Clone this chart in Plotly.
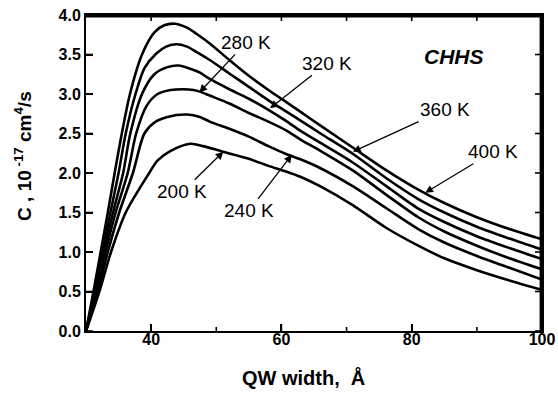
import plotly.graph_objects as go

# Temperatures (labels) and curve data: QW width (Å) vs C (10^-17 cm^4/s)
temps = ["400 K", "360 K", "320 K", "280 K", "240 K", "200 K"]

x_400 = [30, 31.15, 32.25, 33.35, 34.4, 35.5, 36.75, 38.6, 40.5, 42.0, 43.7, 45.5, 47.0, 49.0, 52.0, 55.0, 58.0, 60.7, 63.0, 66.0, 71.0, 76.0, 81.0, 85.0, 90.0, 95.0, 100.0]
y_400 = [0, 0.5, 1.0, 1.5, 2.0, 2.5, 3.0, 3.5, 3.78, 3.87, 3.89, 3.84, 3.76, 3.64, 3.43, 3.23, 3.05, 2.90, 2.77, 2.60, 2.32, 2.04, 1.79, 1.62, 1.44, 1.29, 1.16]

x_360 = [30, 31.3, 32.5, 33.75, 35.0, 36.1, 37.6, 39.0, 40.75, 42.3, 43.9, 45.5, 47.0, 49.0, 52.0, 55.0, 58.0, 60.7, 63.0, 66.0, 71.0, 76.0, 81.0, 85.0, 90.0, 95.0, 100.0]
y_360 = [0, 0.5, 1.0, 1.5, 2.0, 2.5, 3.0, 3.33, 3.51, 3.60, 3.63, 3.60, 3.53, 3.43, 3.26, 3.09, 2.92, 2.78, 2.66, 2.50, 2.24, 1.94, 1.67, 1.50, 1.32, 1.17, 1.03]

x_320 = [30, 31.45, 32.75, 34.15, 35.7, 36.8, 38.6, 40.5, 42.5, 44.2, 46.0, 47.5, 49.0, 52.0, 55.0, 58.0, 60.7, 63.0, 66.0, 71.0, 76.0, 81.0, 85.0, 90.0, 95.0, 100.0]
y_320 = [0, 0.5, 1.0, 1.5, 2.0, 2.5, 3.0, 3.25, 3.34, 3.36, 3.32, 3.27, 3.19, 3.06, 2.94, 2.80, 2.66, 2.53, 2.38, 2.13, 1.84, 1.55, 1.38, 1.20, 1.05, 0.91]

x_280 = [30, 31.6, 33.0, 34.55, 36.4, 37.7, 39.3, 41.0, 43.0, 44.95, 46.5, 47.5, 49.0, 52.0, 55.0, 58.0, 60.7, 63.0, 66.0, 71.0, 76.0, 81.0, 85.0, 90.0, 95.0, 100.0]
y_280 = [0, 0.5, 1.0, 1.5, 2.0, 2.5, 2.85, 3.0, 3.05, 3.06, 3.05, 3.03, 2.98, 2.88, 2.76, 2.65, 2.54, 2.42, 2.28, 2.03, 1.73, 1.44, 1.26, 1.08, 0.92, 0.78]

x_240 = [30, 31.8, 33.35, 35.1, 37.2, 38.96, 40.5, 42.5, 45.5, 47.5, 49.0, 52.0, 55.0, 58.0, 60.7, 63.0, 66.0, 71.0, 76.0, 81.0, 85.0, 90.0, 95.0, 100.0]
y_240 = [0, 0.5, 1.0, 1.5, 2.0, 2.5, 2.64, 2.71, 2.74, 2.71, 2.65, 2.56, 2.46, 2.34, 2.24, 2.17, 2.06, 1.83, 1.56, 1.29, 1.12, 0.95, 0.80, 0.65]

x_200 = [30, 32.05, 33.84, 36.1, 39.7, 41.0, 43.0, 46.0, 48.0, 51.0, 55.0, 58.0, 60.7, 63.0, 66.0, 71.0, 76.0, 81.0, 85.0, 90.0, 95.0, 100.0]
y_200 = [0, 0.5, 1.0, 1.5, 2.0, 2.16, 2.28, 2.37, 2.34, 2.27, 2.18, 2.09, 2.02, 1.95, 1.83, 1.59, 1.31, 1.08, 0.92, 0.77, 0.64, 0.52]

xs = [x_400, x_360, x_320, x_280, x_240, x_200]
ys = [y_400, y_360, y_320, y_280, y_240, y_200]

# Arrow tips (data coords) for labels
label_x = [82.07, 70.97, 58.26, 47.4, 61.6, 51.09]
label_y = [1.75, 2.27, 2.82, 3.02, 2.23, 2.27]

x_range = [30, 100]
y_range = [0, 4]
x_ticks = [40, 60, 80, 100]
x_minor = [50, 70, 90]
y_ticks = [0.0, 0.5, 1.0, 1.5, 2.0, 2.5, 3.0, 3.5, 4.0]

FONT = "Liberation Sans, Arial"
W, H = 558, 393
ML, MR, MT, MB = 86, 16, 15, 62

dxp = (x_range[1] - x_range[0]) / (W - ML - MR)   # data units per pixel (x)
dyp = (y_range[1] - y_range[0]) / (H - MT - MB)   # data units per pixel (y)

fig = go.Figure()

# Frame: top and right edges, drawn just inside the plot area
fx = [x_range[0], x_range[1] - 1.2 * dxp, x_range[1] - 1.2 * dxp]
fy = [y_range[1] - 1.2 * dyp, y_range[1] - 1.2 * dyp, y_range[0]]
fig.add_trace(go.Scatter(x=fx, y=fy, mode="lines", line=dict(color="black", width=2.4),
                         showlegend=False, hoverinfo="skip"))

# Inside tick marks on all four sides, from the tick lists
tx, ty = [], []
for xv in x_ticks + x_minor:
    ln = 7 if xv in x_ticks else 4
    tx += [xv, xv, None, xv, xv, None]
    ty += [y_range[0], y_range[0] + ln * dyp, None, y_range[1], y_range[1] - 6 * dyp, None]
for yv in y_ticks:
    tx += [x_range[0], x_range[0] + 7 * dxp, None, x_range[1], x_range[1] - 7 * dxp, None]
    ty += [yv, yv, None, yv, yv, None]
fig.add_trace(go.Scatter(x=tx, y=ty, mode="lines", line=dict(color="black", width=1.6),
                         showlegend=False, hoverinfo="skip", connectgaps=False))

for t, xv, yv in zip(temps, xs, ys):
    fig.add_trace(go.Scatter(x=xv, y=yv, mode="lines", name=t,
                             line=dict(color="black", width=2.6, shape="spline", smoothing=0.8),
                             showlegend=False, hoverinfo="skip"))

offsets = {"400 K": (68, -41), "360 K": (92, -42), "320 K": (57, -45),
           "280 K": (47, -50), "240 K": (-43, 56), "200 K": (-41, 40)}
for t, lx, ly in zip(temps, label_x, label_y):
    ax, ay = offsets[t]
    fig.add_annotation(x=lx, y=ly, text=t, showarrow=True, ax=ax, ay=ay,
                       arrowhead=2, arrowsize=1.2, arrowwidth=1.3, arrowcolor="black",
                       font=dict(family=FONT, size=19, color="black"))

fig.add_annotation(x=0.8076, y=0.8696, xref="paper", yref="paper", text="<b><i>CHHS</i></b>",
                   xanchor="center", yanchor="middle",
                   showarrow=False, font=dict(family=FONT, size=21, color="black"))

fig.add_annotation(x=-0.1397, y=0.555, xref="paper", yref="paper",
                   text="<b>C , 10<sup> -17</sup> cm<sup>4</sup>/s</b>", textangle=-90,
                   xanchor="center", yanchor="middle",
                   showarrow=False, font=dict(family=FONT, size=19, color="black"))

fig.add_annotation(x=0.476, y=-0.1475, xref="paper", yref="paper",
                   text="<b>QW width,  Å</b>", xanchor="center", yanchor="middle",
                   showarrow=False, font=dict(family=FONT, size=20, color="black"))

common = dict(showline=True, linecolor="black", linewidth=2, showgrid=False, zeroline=False,
              automargin=False, ticks="inside", ticklen=7, tickwidth=1.5, tickcolor="black",
              mirror=True)

fig.update_layout(
    template="none",
    width=W, height=H,
    margin=dict(l=ML, r=MR, t=MT, b=MB, autoexpand=False),
    paper_bgcolor="white", plot_bgcolor="white",
    font=dict(family=FONT, color="black"),
    xaxis=dict(range=x_range, tickvals=x_ticks, ticklabelstandoff=-7,
               tickfont=dict(size=16, family=FONT, weight="bold"), **common),
    yaxis=dict(range=y_range, tickvals=y_ticks, tickformat=".1f",
               tickfont=dict(size=16, family=FONT, weight="bold"), **common),
)

fig.write_html("out.html", config={"displayModeBar": False},
               post_script="document.body.style.margin='0';document.body.style.overflow='hidden';")
